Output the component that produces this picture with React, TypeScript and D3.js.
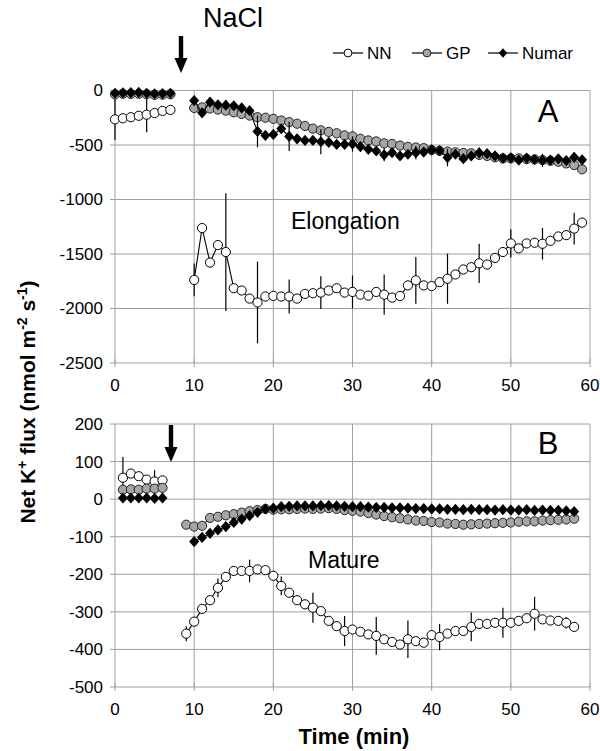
import React from "react";
import * as d3 from "d3";

// ---------- data ----------
const xTicks = [0, 10, 20, 30, 40, 50, 60];
const yTicksA = [0, -500, -1000, -1500, -2000, -2500];
const yTicksB = [200, 100, 0, -100, -200, -300, -400, -500];
const seriesNames = ["NN", "GP", "Numar"];

// Panel A (Elongation)
const timesPreA = [0, 1, 2, 3, 4, 5, 6, 7];
const nnPreA = [-265, -255, -245, -232, -222, -207, -187, -178];
const nnPreAErr = [190, 0, 0, 0, 160, 0, 0, 0];
const gpPreA = [-35, -30, -32, -30, -35, -40, -38, -35];
const numarPreA = [-25, -22, -20, -18, -25, -30, -28, -25];

const timesPostA = d3.range(10, 60);
const nnPostA = [
  -1738, -1262, -1579, -1418, -1482, -1814, -1835, -1909, -1945, -1890,
  -1884, -1890, -1890, -1909, -1866, -1860, -1854, -1835, -1814, -1854,
  -1848, -1873, -1882, -1848, -1873, -1900, -1885, -1788, -1742, -1788,
  -1794, -1758, -1727, -1688, -1642, -1621, -1585, -1597, -1536, -1482,
  -1403, -1448, -1403, -1397, -1406, -1379, -1339, -1327, -1267, -1212,
];
const nnPostAErr = [
  150, 0, 0, 0, 540, 0, 0, 0, 375, 0,
  0, 0, 155, 0, 0, 0, 150, 0, 0, 0,
  150, 0, 0, 0, 185, 0, 0, 0, 215, 0,
  0, 0, 230, 0, 0, 0, 180, 0, 0, 0,
  130, 0, 0, 0, 145, 0, 0, 0, 145, 0,
];
const gpPostA = [
  -160, -155, -165, -175, -185, -200, -215, -230, -245, -250,
  -260, -275, -290, -305, -325, -350, -365, -380, -392, -412,
  -421, -443, -458, -467, -485, -490, -505, -517, -523, -529,
  -545, -554, -560, -567, -573, -576, -591, -600, -613, -623,
  -623, -623, -629, -632, -638, -644, -654, -669, -684, -723,
];
const gpPostAErr = [
  20, 0, 0, 0, 25, 0, 0, 0, 30, 0,
  0, 0, 30, 0, 0, 0, 40, 0, 0, 0,
  45, 0, 0, 0, 40, 0, 0, 0, 35, 0,
  0, 0, 30, 0, 0, 0, 30, 0, 0, 0,
  25, 0, 0, 0, 30, 0, 0, 0, 30, 0,
];
const numarPostA = [
  -92, -205, -107, -131, -135, -140, -160, -185, -375, -412,
  -403, -351, -421, -443, -458, -458, -470, -475, -495, -495,
  -490, -515, -540, -555, -590, -570, -600, -585, -570, -565,
  -545, -552, -615, -585, -625, -600, -572, -580, -600, -620,
  -618, -638, -620, -633, -640, -638, -627, -643, -613, -636,
];
const numarPostAErr = [
  30, 0, 0, 0, 40, 0, 0, 0, 145, 0,
  0, 0, 135, 0, 0, 0, 115, 0, 0, 0,
  70, 0, 0, 0, 60, 0, 0, 0, 60, 0,
  0, 0, 80, 0, 0, 0, 50, 0, 0, 0,
  40, 0, 0, 0, 60, 0, 0, 0, 45, 0,
];

// Panel B (Mature)
const timesPreB = [1, 2, 3, 4, 5, 6];
const nnPreB = [57, 68, 61, 52, 47, 50];
const nnPreBErr = [55, 0, 0, 0, 30, 0];
const gpPreB = [25, 26, 25, 28, 28, 30];
const numarPreB = [3, 3, 3, 3, 2, 3];

const timesPostB = d3.range(9, 59);
const nnPostB = [
  -358, -326, -292, -269, -236, -207, -191, -191, -191, -187,
  -189, -204, -231, -249, -269, -280, -289, -298, -324, -338,
  -351, -347, -353, -360, -364, -373, -380, -387, -373, -378,
  -382, -362, -367, -358, -351, -351, -340, -332, -332, -329,
  -329, -329, -324, -317, -305, -320, -323, -324, -329, -340,
];
const nnPostBErr = [
  20, 0, 0, 0, 25, 0, 0, 0, 30, 0,
  0, 0, 25, 0, 0, 0, 40, 0, 0, 0,
  40, 0, 0, 0, 50, 0, 0, 0, 50, 0,
  0, 0, 35, 0, 0, 0, 38, 0, 0, 0,
  40, 0, 0, 0, 45, 0, 0, 0, 15, 0,
];
const gpPostB = [
  -68, -73, -71, -50, -47, -43, -40, -36, -32, -29,
  -26, -28, -27, -27, -26, -25, -26, -25, -24, -26,
  -29, -31, -33, -37, -41, -45, -48, -51, -54, -57,
  -58, -61, -62, -65, -66, -68, -67, -66, -65, -64,
  -63, -62, -60, -59, -59, -57, -56, -55, -54, -52,
];
const timesPostBNumar = d3.range(10, 59);
const numarPostB = [
  -113, -102, -91, -82, -73, -62, -53, -44, -35, -26,
  -24, -20, -19, -18, -18, -18, -17, -17, -18, -19,
  -20, -20, -21, -22, -22, -23, -23, -24, -25, -25,
  -26, -26, -27, -27, -28, -27, -28, -28, -29, -28,
  -29, -29, -28, -30, -29, -30, -30, -31, -33,
];

// ---------- layout ----------
const W = 600;
const H = 751;
const PX0 = 115;
const PX1 = 590;
const A_TOP = 90.5;
const A_BOT = 363;
const B_TOP = 424;
const B_BOT = 687;
const FONT = "'Liberation Sans', Arial, Helvetica, sans-serif";
const GRID = "#a0a0a0";
const GP_FILL = "#a6a6a6";

const x = d3.scaleLinear().domain([0, 60]).range([PX0, PX1]);
const yA = d3.scaleLinear().domain([-2500, 0]).range([A_BOT, A_TOP]);
const yB = d3.scaleLinear().domain([-500, 200]).range([B_BOT, B_TOP]);

type Seg = { t: number[]; v: number[]; e?: number[] };
type Series = { name: string; kind: "open" | "gray" | "diamond"; segs: Seg[] };

const seriesA: Series[] = [
  { name: seriesNames[0], kind: "open", segs: [{ t: timesPreA, v: nnPreA, e: nnPreAErr }, { t: timesPostA, v: nnPostA, e: nnPostAErr }] },
  { name: seriesNames[1], kind: "gray", segs: [{ t: timesPreA, v: gpPreA }, { t: timesPostA, v: gpPostA, e: gpPostAErr }] },
  { name: seriesNames[2], kind: "diamond", segs: [{ t: timesPreA, v: numarPreA }, { t: timesPostA, v: numarPostA, e: numarPostAErr }] },
];
const seriesB: Series[] = [
  { name: seriesNames[0], kind: "open", segs: [{ t: timesPreB, v: nnPreB, e: nnPreBErr }, { t: timesPostB, v: nnPostB, e: nnPostBErr }] },
  { name: seriesNames[1], kind: "gray", segs: [{ t: timesPreB, v: gpPreB }, { t: timesPostB, v: gpPostB }] },
  { name: seriesNames[2], kind: "diamond", segs: [{ t: timesPreB, v: numarPreB }, { t: timesPostBNumar, v: numarPostB }] },
];

function Marker({ kind, cx, cy, s = 1 }: { kind: string; cx: number; cy: number; s?: number }) {
  if (kind === "diamond") {
    const h = 5.6 * s;
    const w = 5 * s;
    return <path d={`M${cx},${cy - h}L${cx + w},${cy}L${cx},${cy + h}L${cx - w},${cy}Z`} fill="#000" />;
  }
  return (
    <circle
      cx={cx}
      cy={cy}
      r={4.6 * s}
      fill={kind === "open" ? "#fff" : GP_FILL}
      stroke={kind === "open" ? "#000" : "#222"}
      strokeWidth={1}
    />
  );
}

function Panel({ y, ticks, series, top, bot }: { y: d3.ScaleLinear<number, number>; ticks: number[]; series: Series[]; top: number; bot: number }) {
  const line = d3
    .line<[number, number]>()
    .x((d) => x(d[0]))
    .y((d) => y(d[1]));
  return (
    <g>
      {ticks.map((t) => (
        <line key={"h" + t} x1={PX0} x2={PX1} y1={y(t)} y2={y(t)} stroke={GRID} strokeWidth={1} />
      ))}
      {xTicks.map((t) => (
        <line key={"v" + t} x1={x(t)} x2={x(t)} y1={top} y2={bot} stroke={GRID} strokeWidth={1} />
      ))}
      {ticks.map((t) => (
        <g key={"yt" + t}>
          <line x1={PX0 - 5} x2={PX0} y1={y(t)} y2={y(t)} stroke={GRID} />
          <text x={PX0 - 12} y={y(t)} dy="0.35em" textAnchor="end" fontSize={17} fontFamily={FONT} fill="#000">
            {t}
          </text>
        </g>
      ))}
      {xTicks.map((t) => (
        <g key={"xt" + t}>
          <line x1={x(t)} x2={x(t)} y1={bot - 4} y2={bot + 4} stroke={GRID} />
          <text x={x(t)} y={bot + 22} dy="0.35em" textAnchor="middle" fontSize={17} fontFamily={FONT} fill="#000">
            {t}
          </text>
        </g>
      ))}
      {series.map((s) => (
        <g key={s.name}>
          {s.segs.map((seg, i) => (
            <path
              key={"l" + i}
              d={line(seg.t.map((t, j) => [t, seg.v[j]] as [number, number])) || ""}
              fill="none"
              stroke="#000"
              strokeWidth={1.1}
            />
          ))}
          {s.segs.map((seg, i) =>
            seg.e
              ? seg.t.map((t, j) =>
                  seg.e![j] > 0 ? (
                    <line
                      key={"e" + i + "-" + j}
                      x1={x(t)}
                      x2={x(t)}
                      y1={y(seg.v[j] - seg.e![j])}
                      y2={y(seg.v[j] + seg.e![j])}
                      stroke="#000"
                      strokeWidth={1.2}
                    />
                  ) : null
                )
              : null
          )}
          {s.segs.map((seg, i) =>
            seg.t.map((t, j) => <Marker key={"m" + i + "-" + j} kind={s.kind} cx={x(t)} cy={y(seg.v[j])} />)
          )}
        </g>
      ))}
    </g>
  );
}

function Arrow({ cx, y0, y1 }: { cx: number; y0: number; y1: number }) {
  const hw = 6.5;
  const hh = 15;
  return (
    <g>
      <rect x={cx - 2.2} y={y0} width={4.4} height={y1 - y0 - hh + 1} fill="#000" />
      <path d={`M${cx - hw},${y1 - hh}L${cx + hw},${y1 - hh}L${cx},${y1}Z`} fill="#000" />
    </g>
  );
}

export default function App() {
  const legendItems = [
    { name: seriesNames[0], kind: "open", x0: 333 },
    { name: seriesNames[1], kind: "gray", x0: 412 },
    { name: seriesNames[2], kind: "diamond", x0: 488 },
  ];
  return (
    <svg width={W} height={H} style={{ position: "absolute", left: 0, top: 0, background: "#fff" }}>
      <rect x={0} y={0} width={W} height={H} fill="#fff" />
      <Panel y={yA} ticks={yTicksA} series={seriesA} top={A_TOP} bot={A_BOT} />
      <Panel y={yB} ticks={yTicksB} series={seriesB} top={B_TOP} bot={B_BOT} />

      <text x={203} y={27} fontSize={27} fontFamily={FONT} fill="#000">NaCl</text>
      <Arrow cx={181} y0={36} y1={73} />
      <Arrow cx={171} y0={425} y1={462} />

      {legendItems.map((it) => (
        <g key={it.name}>
          <line x1={it.x0} x2={it.x0 + 30} y1={53} y2={53} stroke="#000" strokeWidth={1.2} />
          <Marker kind={it.kind} cx={it.x0 + 15} cy={53} s={0.85} />
          <text x={it.x0 + 34} y={53} dy="0.35em" fontSize={17} fontFamily={FONT} fill="#000">
            {it.name}
          </text>
        </g>
      ))}

      <text x={548} y={122} textAnchor="middle" fontSize={31} fontFamily={FONT} fill="#000">A</text>
      <text x={548} y={454} textAnchor="middle" fontSize={31} fontFamily={FONT} fill="#000">B</text>
      <text x={291} y={229} fontSize={23} fontFamily={FONT} fill="#000">Elongation</text>
      <text x={308} y={568} fontSize={23} fontFamily={FONT} fill="#000">Mature</text>

      <text
        transform="translate(35,402) rotate(-90)"
        textAnchor="middle"
        fontSize={21}
        fontWeight="bold"
        fontFamily={FONT}
        fill="#000"
      >
        Net K<tspan dy={-8} fontSize={14}>+</tspan>
        <tspan dy={8}> flux (nmol m</tspan>
        <tspan dy={-8} fontSize={14}>-2</tspan>
        <tspan dy={8}> s</tspan>
        <tspan dy={-8} fontSize={14}>-1</tspan>
        <tspan dy={8}>)</tspan>
      </text>
      <text x={354} y={744} textAnchor="middle" fontSize={22} fontWeight="bold" fontFamily={FONT} fill="#000">
        Time (min)
      </text>
    </svg>
  );
}
